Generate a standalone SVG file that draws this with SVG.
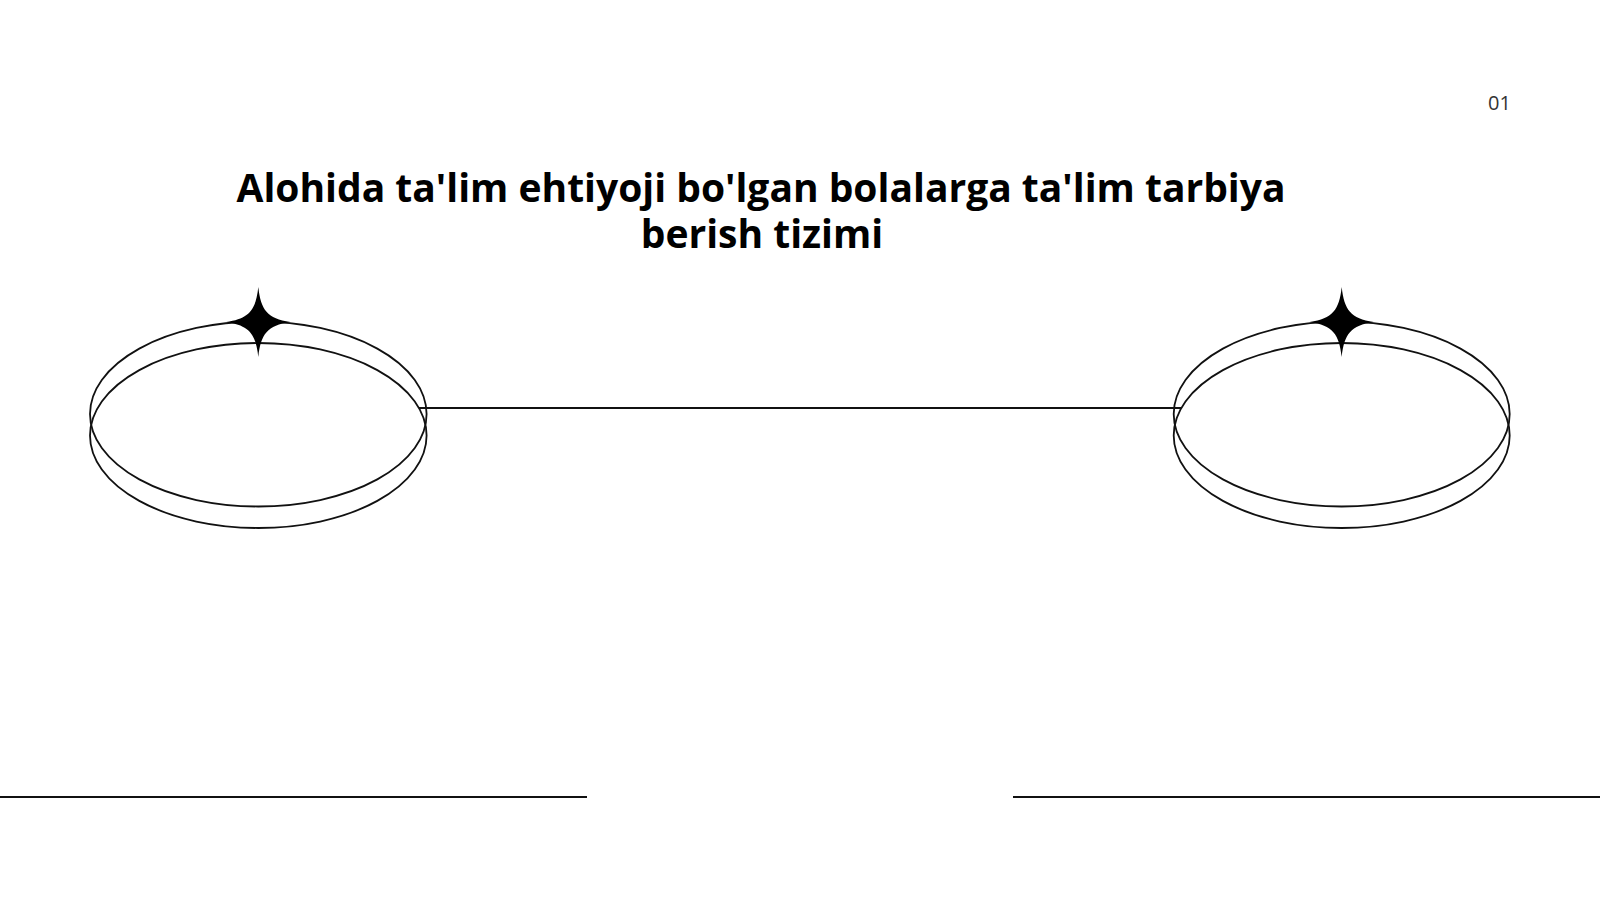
<svg xmlns="http://www.w3.org/2000/svg" width="1600" height="900" viewBox="0 0 1600 900">
<style>
.ring{fill:none;stroke:#111;stroke-width:1.8}
.line{stroke:#111;stroke-width:1.8;fill:none}
.star{fill:#000}
.title{font-family:"Open Sans","Noto Sans","Liberation Sans",sans-serif;font-weight:700;font-size:39px;fill:#000;text-anchor:middle}
.num{font-family:"Open Sans","Noto Sans","Liberation Sans",sans-serif;font-size:20px;font-weight:500;fill:#333}
</style>
<defs>
<path id="star" d="M0,-35 C2.5,-12 9,-3.5 32,0 C9,3.5 2.5,12 0,35 C-2.5,12 -9,3.5 -32,0 C-9,-3.5 -2.5,-12 0,-35 Z"/>
</defs>
<rect width="1600" height="900" fill="#fff"/>
<text class="num" x="1488" y="110">01</text>
<g id="title">
<text class="title" x="761" y="202">Alohida ta'lim ehtiyoji bo'lgan bolalarga ta'lim tarbiya</text>
<text class="title" x="762" y="248">berish tizimi</text>
</g>
<g id="connectors">
<line class="line" x1="419" y1="408" x2="1181" y2="408"/>
<line class="line" x1="0" y1="797" x2="587" y2="797"/>
<line class="line" x1="1013" y1="797" x2="1600" y2="797"/>
</g>
<g id="node-left">
<ellipse class="ring" cx="258.3" cy="414" rx="168.3" ry="92.5"/>
<ellipse class="ring" cx="258.3" cy="435.5" rx="168.3" ry="92.5"/>
<use href="#star" class="star" x="258.3" y="322"/>
</g>
<g id="node-right">
<ellipse class="ring" cx="1341.7" cy="414" rx="168" ry="92.5"/>
<ellipse class="ring" cx="1341.7" cy="435.5" rx="168" ry="92.5"/>
<use href="#star" class="star" x="1341.7" y="322"/>
</g>
</svg>
